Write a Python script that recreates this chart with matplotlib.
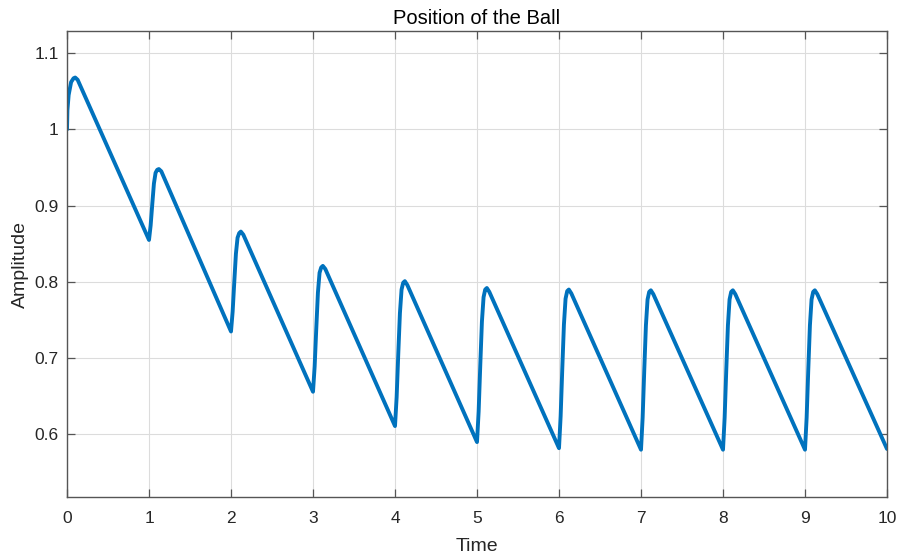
import matplotlib
matplotlib.use("Agg")
import matplotlib.pyplot as plt

# ---- data ----
time = [
    0.00, 0.005, 0.02, 0.05, 0.08, 0.10, 0.13,
    1.00, 1.02, 1.04, 1.06, 1.08, 1.10, 1.12, 1.15,
    2.00, 2.02, 2.04, 2.06, 2.08, 2.10, 2.12, 2.15,
    3.00, 3.02, 3.04, 3.06, 3.08, 3.10, 3.12, 3.15,
    4.00, 4.02, 4.04, 4.06, 4.08, 4.10, 4.12, 4.15,
    5.00, 5.02, 5.04, 5.06, 5.08, 5.10, 5.12, 5.15,
    6.00, 6.02, 6.04, 6.06, 6.08, 6.10, 6.12, 6.15,
    7.00, 7.02, 7.04, 7.06, 7.08, 7.10, 7.12, 7.15,
    8.00, 8.02, 8.04, 8.06, 8.08, 8.10, 8.12, 8.15,
    9.00, 9.02, 9.04, 9.06, 9.08, 9.10, 9.12, 9.15,
    10.00,
]
amplitude = [
    1.000, 1.025, 1.045, 1.062, 1.067, 1.068, 1.065,
    0.855, 0.874, 0.902, 0.929, 0.943, 0.947, 0.948, 0.945,
    0.735, 0.761, 0.800, 0.837, 0.858, 0.864, 0.866, 0.862,
    0.656, 0.689, 0.739, 0.786, 0.812, 0.819, 0.821, 0.817,
    0.611, 0.649, 0.706, 0.759, 0.790, 0.799, 0.801, 0.796,
    0.590, 0.630, 0.691, 0.748, 0.780, 0.790, 0.792, 0.787,
    0.582, 0.624, 0.686, 0.744, 0.778, 0.788, 0.790, 0.785,
    0.580, 0.622, 0.685, 0.743, 0.777, 0.787, 0.789, 0.784,
    0.580, 0.622, 0.685, 0.743, 0.777, 0.787, 0.789, 0.784,
    0.580, 0.622, 0.685, 0.743, 0.777, 0.787, 0.789, 0.784,
    0.581,
]
x_ticks = [0, 1, 2, 3, 4, 5, 6, 7, 8, 9, 10]
y_ticks = [0.6, 0.7, 0.8, 0.9, 1.0, 1.1]
y_tick_labels = ["0.6", "0.7", "0.8", "0.9", "1", "1.1"]

plt.rcParams['font.family'] = ['Liberation Sans', 'DejaVu Sans']

fig = plt.figure(figsize=(8.98, 5.55), dpi=100)
ax = fig.add_axes([67/898, 1-497/555, (887-67)/898, (497-31)/555])

ax.plot(time, amplitude, color='#0072BD', linewidth=2.8,
        solid_joinstyle='round', solid_capstyle='round')

ax.set_xlim(0, 10)
ax.set_ylim(0.518, 1.129)
ax.set_xticks(x_ticks)
ax.set_yticks(y_ticks)
ax.set_yticklabels(y_tick_labels)

edge = '#262626'
ax.grid(True, color='#dcdcdc', linewidth=0.8)
ax.set_axisbelow(True)
for s in ax.spines.values():
    s.set_color('#555555')
    s.set_linewidth(1.0)
ax.tick_params(direction='in', length=6, width=0.9, color='#555555',
               top=True, right=True, labelsize=12.5, labelcolor=edge)
ax.tick_params(axis='x', pad=10)
ax.tick_params(axis='y', pad=6)

ax.set_title('Position of the Ball', fontsize=14.5, color='black', pad=5)
ax.set_xlabel('Time', fontsize=14, color=edge, labelpad=9)
ax.set_ylabel('Amplitude', fontsize=14, color=edge, labelpad=4)

fig.savefig('out.png', dpi=100)
